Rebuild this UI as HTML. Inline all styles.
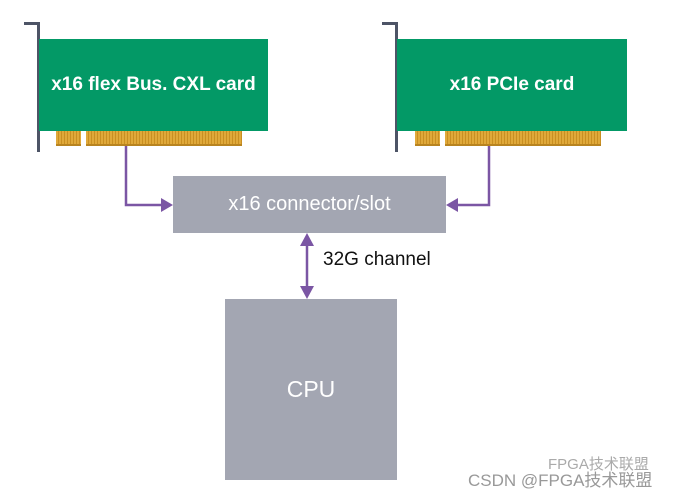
<!DOCTYPE html>
<html><head><meta charset="utf-8"><style>
body{margin:0;width:673px;height:495px;background:#fff;position:relative;overflow:hidden;font-family:"Liberation Sans","Noto Sans CJK SC",sans-serif}
div{position:absolute;box-sizing:border-box}
.g{background:#039966;color:#fff;font-size:19px;font-weight:bold;display:flex;align-items:center;justify-content:center}
.gold{background:repeating-linear-gradient(90deg,#e0a93a 0 2px,#c98f22 2px 3px);border-bottom:2px solid #b88420}
.gr{background:#a3a6b2;color:#fff;display:flex;align-items:center;justify-content:center}
.br{background:#4d5466}
</style></head><body>
<div class="br" style="left:24px;top:22px;width:16px;height:3px"></div>
<div class="br" style="left:37px;top:22px;width:3px;height:130px"></div>
<div class="g" style="left:39px;top:39px;width:229px;height:92px">x16 flex Bus. CXL card</div>
<div class="gold" style="left:56px;top:131px;width:25px;height:15px"></div>
<div class="gold" style="left:86px;top:131px;width:156px;height:15px"></div>

<div class="br" style="left:382px;top:22px;width:16px;height:3px"></div>
<div class="br" style="left:395px;top:22px;width:3px;height:130px"></div>
<div class="g" style="left:397px;top:39px;width:230px;height:92px">x16 PCIe card</div>
<div class="gold" style="left:415px;top:131px;width:25px;height:15px"></div>
<div class="gold" style="left:445px;top:131px;width:156px;height:15px"></div>

<div class="gr" style="left:173px;top:176px;width:273px;height:57px;font-size:20px">x16 connector/slot</div>
<div class="gr" style="left:225px;top:299px;width:172px;height:181px;font-size:23px">CPU</div>
<div style="left:323px;top:249px;font-size:19px;color:#111">32G channel</div>
<div style="left:548px;top:453px;font-size:15px;color:#aaa">FPGA技术联盟</div>
<div style="left:468px;top:466px;font-size:17px;color:#999">CSDN @FPGA技术联盟</div>

<svg width="673" height="495" style="position:absolute;left:0;top:0">
<g fill="none" stroke="#7b56a4" stroke-width="2.5">
<polyline points="126,146 126,205 162,205"/>
<polyline points="489,146 489,205 457,205"/>
<line x1="307" y1="244" x2="307" y2="288"/>
</g>
<g fill="#7b56a4">
<polygon points="173,205 161,198 161,212"/>
<polygon points="446,205 458,198 458,212"/>
<polygon points="307,233 300,246 314,246"/>
<polygon points="307,299 300,286 314,286"/>
</g>
</svg>
</body></html>
